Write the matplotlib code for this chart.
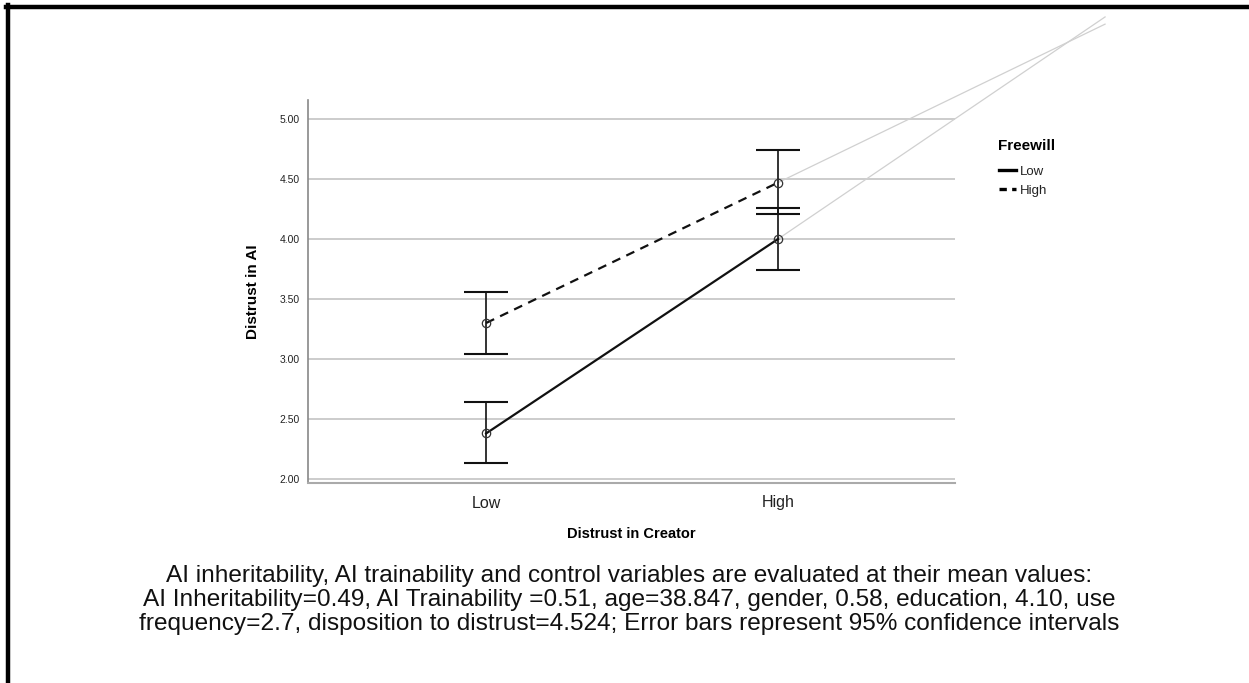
import matplotlib
matplotlib.use("Agg")
from matplotlib import pyplot as plt
from matplotlib.lines import Line2D

plt.rcParams['font.family'] = ['Liberation Sans', 'DejaVu Sans']

# data
creator = ["Low", "High"]
yticks = [2.00, 2.50, 3.00, 3.50, 4.00, 4.50, 5.00]

low_mean = [2.38, 4.00]
low_lo = [2.13, 3.74]
low_hi = [2.64, 4.26]

high_mean = [3.30, 4.47]
high_lo = [3.04, 4.21]
high_hi = [3.56, 4.74]

# stray grey guide lines from the High points (export artifact)
ghost_x = [1.0, 2.12]
ghost_low_y = [4.00, 5.85]
ghost_high_y = [4.47, 5.79]

caption = ["AI inheritability, AI trainability and control variables are evaluated at their mean values:",
           "AI Inheritability=0.49, AI Trainability =0.51, age=38.847, gender, 0.58, education, 4.10, use",
           "frequency=2.7, disposition to distrust=4.524; Error bars represent 95% confidence intervals"]

W, H = 1249, 683
fig = plt.figure(figsize=(W / 100, H / 100), dpi=100)
ax = fig.add_axes([308 / W, 1 - 483 / H, (955 - 308) / W, 383 / H])

x = [0, 1]

for yv in yticks:
    ax.axhline(yv, color="#c8c8c8", lw=1.3, zorder=0)

ax.plot(ghost_x, ghost_low_y, color="#d0d0d0", lw=0.9, clip_on=False, zorder=1)
ax.plot(ghost_x, ghost_high_y, color="#d0d0d0", lw=0.9, clip_on=False, zorder=1)

def draw(mean, lo, hi, ls):
    err = [[m - l for m, l in zip(mean, lo)], [h - m for m, h in zip(mean, hi)]]
    ax.errorbar(x, mean, yerr=err, fmt="none", ecolor="#111111", elinewidth=1.2,
                capsize=16, capthick=1.5, zorder=3)
    ax.plot(x, mean, color="#111111", lw=1.6, ls=ls, zorder=4,
            marker="o", markersize=6, markerfacecolor="none",
            markeredgecolor="#333333", markeredgewidth=0.9)

draw(low_mean, low_lo, low_hi, "-")
draw(high_mean, high_lo, high_hi, (0, (4, 3)))

ax.set_xlim(-0.61, 1.606)
ax.set_ylim(1.967, 5.158)
ax.set_xticks(x)
ax.set_xticklabels(creator, fontsize=11.5, color="#222222")
ax.set_yticks(yticks)
ax.set_yticklabels(["%.2f" % v for v in yticks], fontsize=7.5, color="#222222")
ax.tick_params(length=0, pad=6)
ax.tick_params(axis="x", pad=9)

for s in ["top", "right"]:
    ax.spines[s].set_visible(False)
ax.spines["left"].set_color("#888888")
ax.spines["left"].set_linewidth(1.2)
ax.spines["bottom"].set_color("#aaaaaa")
ax.spines["bottom"].set_linewidth(1.5)

ax.set_ylabel("Distrust in AI", fontsize=11, fontweight="bold", labelpad=14)
ax.set_xlabel("Distrust in Creator", fontsize=10.5, fontweight="bold", labelpad=12)

# legend
fig.text(998 / W, 1 - 146 / H, "Freewill", fontsize=11, fontweight="bold", va="center")
fig.add_artist(Line2D([999 / W, 1016 / W], [1 - 170 / H] * 2, color="black", lw=2.4))
fig.add_artist(Line2D([999 / W, 1016 / W], [1 - 189 / H] * 2, color="black", lw=2.4,
                      ls=(0, (2.2, 1.6))))
fig.text(1020 / W, 1 - 172 / H, "Low", fontsize=9.5, va="center", color="#222222")
fig.text(1020 / W, 1 - 191 / H, "High", fontsize=9.5, va="center", color="#222222")

for i, line in enumerate(caption):
    fig.text(629 / W, 1 - (576 + 24 * i) / H, line, fontsize=17.6, ha="center",
             va="center", color="#111111")

# frame
fig.add_artist(Line2D([6 / W, 1.0], [1 - 7 / H] * 2, color="black", lw=3.2))
fig.add_artist(Line2D([8 / W, 8 / W], [1 - 5 / H, 0], color="black", lw=3.2))

fig.savefig("out.png", dpi=100)
